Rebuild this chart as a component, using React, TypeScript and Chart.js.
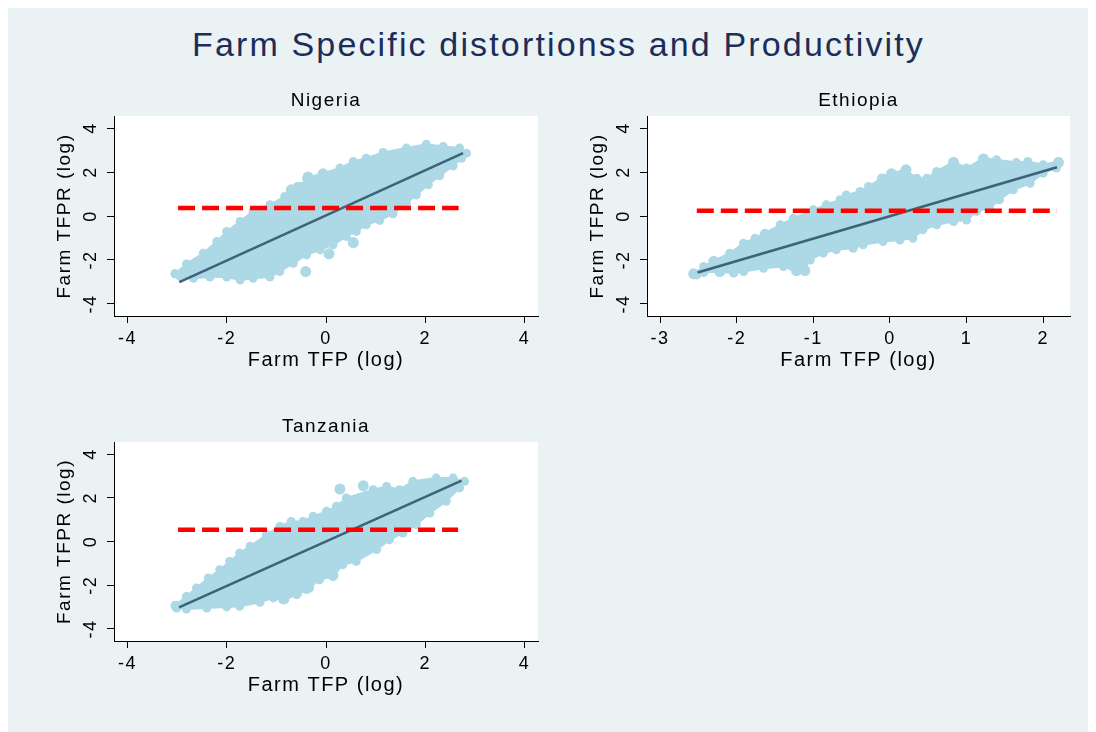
import React, { useEffect, useRef } from "react";
import { Chart, registerables } from "chart.js";
Chart.register(...registerables);

const FONT = '"Liberation Sans", Arial, sans-serif';
const BG = "#eaf2f3";
const CLOUD = "#add8e6";
const FIT = "#3e6278";
const REF = "#ff0000";

const mainTitle = "Farm Specific distortionss and Productivity";
const xAxisTitle = "Farm TFP (log)";
const yAxisTitle = "Farm TFPR (log)";
const yTicks = [-4, -2, 0, 2, 4];
const nigeriaXTicks = [-4, -2, 0, 2, 4];
const ethiopiaXTicks = [-3, -2, -1, 0, 1, 2];
const tanzaniaXTicks = [-4, -2, 0, 2, 4];

// ---- Nigeria ----
const nigeriaCloudX = [-3.04, -2.81, -2.47, -2.2, -2.0, -1.73, -1.47, -1.13, -0.83, -0.69, -0.53, -0.39, -0.06, 0.28, 0.55, 0.81, 1.15, 1.62, 2.02, 2.36, 2.69, 2.83, 2.73, 2.56, 2.29, 2.06, 1.82, 1.62, 1.35, 1.08, 0.81, 0.61, 0.41, 0.14, -0.12, -0.39, -0.66, -0.93, -1.13, -1.47, -1.73, -2.0, -2.34, -2.67, -2.94];
const nigeriaCloudY = [-2.63, -2.18, -1.69, -1.16, -0.7, -0.25, 0.21, 0.51, 0.89, 1.22, 1.34, 1.72, 1.95, 2.18, 2.48, 2.63, 2.89, 3.09, 3.27, 3.16, 3.09, 2.86, 2.63, 2.28, 1.83, 1.42, 0.96, 0.58, 0.1, -0.2, -0.4, -0.7, -0.93, -1.31, -1.54, -1.77, -2.15, -2.53, -2.78, -2.83, -2.91, -2.78, -2.78, -2.83, -2.75];
const nigeriaDotX = [-0.41, 0.55, 0.06, -0.36, -0.06, -0.7, -0.56];
const nigeriaDotY = [-2.53, -1.21, -1.72, 1.77, 1.92, 1.19, 1.31];
const nigeriaFitX = [-2.955, 2.76];
const nigeriaFitY = [-3.01, 2.86];
const nigeriaRefX = [-2.98, 2.67];
const nigeriaRefY = [0.36, 0.36];

// ---- Ethiopia ----
const ethiopiaCloudX = [-2.56, -2.43, -2.3, -2.09, -1.91, -1.76, -1.63, -1.43, -1.26, -1.0, -0.83, -0.65, -0.57, -0.39, -0.28, -0.11, 0.02, 0.2, 0.35, 0.48, 0.61, 0.83, 1.0, 1.22, 1.39, 1.65, 1.8, 2.0, 2.2, 2.17, 2.0, 1.83, 1.61, 1.43, 1.3, 1.13, 1.0, 0.83, 0.61, 0.43, 0.3, 0.13, -0.09, -0.35, -0.48, -0.7, -0.87, -1.04, -1.13, -1.22, -1.39, -1.65, -1.91, -2.04, -2.22, -2.43, -2.52];
const ethiopiaCloudY = [-2.63, -2.3, -2.03, -1.69, -1.24, -1.01, -0.78, -0.4, -0.1, 0.28, 0.51, 0.74, 0.96, 1.12, 1.34, 1.72, 1.95, 2.1, 1.72, 1.72, 2.03, 2.48, 2.18, 2.63, 2.56, 2.43, 2.48, 2.33, 2.48, 2.18, 1.95, 1.49, 1.19, 0.74, 0.36, 0.21, -0.18, -0.25, -0.4, -0.63, -1.01, -1.09, -1.16, -1.31, -1.47, -1.54, -1.69, -2.0, -2.45, -2.53, -2.3, -2.38, -2.53, -2.6, -2.53, -2.57, -2.68];
const ethiopiaDotX = [0.21, 0.02, -0.09, 1.22, 0.83, 2.2, -2.56, -2.3, -2.22, -1.22, -1.11, -1.63];
const ethiopiaDotY = [2.1, 1.92, 1.68, 2.59, 2.44, 2.43, -2.63, -2.07, -2.53, -2.48, -2.48, -0.86];
const ethiopiaFitX = [-2.51, 2.18];
const ethiopiaFitY = [-2.57, 2.22];
const ethiopiaRefX = [-2.52, 2.18];
const ethiopiaRefY = [0.24, 0.24];

// ---- Tanzania ----
const tanzaniaCloudX = [-3.04, -2.81, -2.61, -2.37, -2.14, -1.94, -1.74, -1.53, -1.2, -0.93, -0.7, -0.46, -0.26, 0.01, 0.21, 0.41, 0.95, 1.22, 1.48, 1.75, 2.22, 2.56, 2.79, 2.69, 2.42, 2.09, 1.82, 1.55, 1.28, 1.02, 0.61, 0.34, 0.14, -0.13, -0.39, -0.59, -0.83, -1.06, -1.33, -1.74, -2.0, -2.4, -2.81, -3.01];
const tanzaniaCloudY = [-2.93, -2.51, -2.13, -1.67, -1.29, -0.91, -0.53, -0.22, 0.31, 0.69, 0.92, 0.92, 1.15, 1.38, 1.61, 1.99, 2.37, 2.52, 2.37, 2.75, 2.9, 2.9, 2.75, 2.45, 1.84, 1.3, 0.77, 0.39, 0.08, -0.37, -0.91, -1.06, -1.59, -1.75, -2.2, -2.43, -2.66, -2.58, -2.78, -2.96, -2.99, -3.04, -3.09, -3.04];
const tanzaniaDotX = [0.28, 0.75, 0.14, -0.35, -0.86, -0.59, -3.01];
const tanzaniaDotY = [2.4, 2.55, -1.55, -2.1, -2.62, -2.35, -2.96];
const tanzaniaFitX = [-2.96, 2.73];
const tanzaniaFitY = [-3.01, 2.78];
const tanzaniaRefX = [-2.98, 2.66];
const tanzaniaRefY = [0.54, 0.54];

type PanelDef = {
  title: string;
  left: number;
  top: number;
  width: number;
  height: number;
  plotW: number;
  plotH: number;
  xMin: number;
  xMax: number;
  xTicks: number[];
  cloudX: number[];
  cloudY: number[];
  dotX: number[];
  dotY: number[];
  fitX: number[];
  fitY: number[];
  refX: number[];
  refY: number[];
};

const panels: PanelDef[] = [
  { title: "Nigeria", left: 32, top: 78, width: 510, height: 290, plotW: 424, plotH: 200, xMin: -4.27, xMax: 4.27, xTicks: nigeriaXTicks, cloudX: nigeriaCloudX, cloudY: nigeriaCloudY, dotX: nigeriaDotX, dotY: nigeriaDotY, fitX: nigeriaFitX, fitY: nigeriaFitY, refX: nigeriaRefX, refY: nigeriaRefY },
  { title: "Ethiopia", left: 565, top: 78, width: 509, height: 290, plotW: 423, plotH: 200, xMin: -3.17, xMax: 2.35, xTicks: ethiopiaXTicks, cloudX: ethiopiaCloudX, cloudY: ethiopiaCloudY, dotX: ethiopiaDotX, dotY: ethiopiaDotY, fitX: ethiopiaFitX, fitY: ethiopiaFitY, refX: ethiopiaRefX, refY: ethiopiaRefY },
  { title: "Tanzania", left: 32, top: 404, width: 510, height: 289, plotW: 424, plotH: 199, xMin: -4.27, xMax: 4.27, xTicks: tanzaniaXTicks, cloudX: tanzaniaCloudX, cloudY: tanzaniaCloudY, dotX: tanzaniaDotX, dotY: tanzaniaDotY, fitX: tanzaniaFitX, fitY: tanzaniaFitY, refX: tanzaniaRefX, refY: tanzaniaRefY },
];

const pts = (xs: number[], ys: number[]) => xs.map((x, i) => ({ x, y: ys[i] }));

const stylePlugin = {
  id: "panelStyle",
  beforeUpdate(chart: any) {
    (chart.ctx as any).letterSpacing = "1.5px";
  },
  beforeDraw(chart: any) {
    const ctx = chart.ctx;
    (ctx as any).letterSpacing = "1.5px";
    const a = chart.chartArea;
    ctx.save();
    ctx.fillStyle = "#ffffff";
    ctx.fillRect(a.left, a.top, a.right - a.left, a.bottom - a.top);
    ctx.restore();
  },
};

function Panel({ def }: { def: PanelDef }) {
  const ref = useRef<HTMLCanvasElement>(null);
  useEffect(() => {
    const cloud = pts(def.cloudX, def.cloudY);
    cloud.push({ ...cloud[0] });
    const chart = new Chart(ref.current as HTMLCanvasElement, {
      type: "scatter",
      data: {
        datasets: [
          {
            type: "line",
            data: pts(def.refX, def.refY),
            borderColor: REF,
            borderWidth: 4.5,
            borderDash: [17, 7],
            borderCapStyle: "butt",
            pointRadius: 0,
            fill: false,
          } as any,
          {
            type: "line",
            data: pts(def.fitX, def.fitY),
            borderColor: FIT,
            borderWidth: 2.5,
            pointRadius: 0,
            fill: false,
          } as any,
          {
            type: "scatter",
            data: pts(def.dotX, def.dotY),
            backgroundColor: CLOUD,
            borderColor: CLOUD,
            borderWidth: 0,
            pointRadius: 5.5,
          } as any,
          {
            type: "line",
            data: cloud,
            borderColor: CLOUD,
            backgroundColor: CLOUD,
            borderWidth: 2,
            borderJoinStyle: "round",
            pointRadius: 4.5,
            pointBorderWidth: 0,
            pointBackgroundColor: CLOUD,
            tension: 0,
            fill: "shape",
          } as any,
        ],
      },
      options: {
        animation: false,
        responsive: false,
        devicePixelRatio: 1,
        events: [],
        layout: { padding: { left: 0, right: def.width - 74 - def.plotW, top: 0, bottom: 0 } },
        plugins: {
          legend: { display: false },
          tooltip: { enabled: false },
          title: {
            display: true,
            text: def.title,
            color: "#000000",
            fullSize: false,
            font: { family: FONT, size: 19, weight: "normal", lineHeight: 1.2 },
            padding: { top: 3.6, bottom: 3.6 },
          },
        },
        scales: {
          x: {
            type: "linear",
            min: def.xMin,
            max: def.xMax,
            afterBuildTicks: (s: any) => {
              s.ticks = def.xTicks.map((v) => ({ value: v }));
            },
            afterFit: (s: any) => {
              s.height = def.height - 30 - def.plotH;
            },
            border: { display: true, color: "#000000", width: 1 },
            grid: { display: true, drawOnChartArea: false, drawTicks: true, tickLength: 7, color: "#000000", tickColor: "#000000" },
            ticks: {
              color: "#000000",
              font: { family: FONT, size: 18, lineHeight: 1.2 },
              padding: 5,
              maxRotation: 0,
              autoSkip: false,
              callback: (v: any) => String(v),
            },
            title: {
              display: true,
              text: xAxisTitle,
              color: "#000000",
              font: { family: FONT, size: 20, lineHeight: 1.2 },
              padding: { top: 0, bottom: 4 },
            },
          },
          y: {
            type: "linear",
            min: -4.55,
            max: 4.55,
            afterBuildTicks: (s: any) => {
              s.ticks = yTicks.map((v) => ({ value: v }));
            },
            afterFit: (s: any) => {
              s.width = 74;
            },
            border: { display: true, color: "#000000", width: 1 },
            grid: { display: true, drawOnChartArea: false, drawTicks: true, tickLength: 7, color: "#000000", tickColor: "#000000" },
            ticks: {
              color: "#000000",
              font: { family: FONT, size: 18, lineHeight: 1.2 },
              padding: 6,
              minRotation: 90,
              maxRotation: 90,
              crossAlign: "center",
              autoSkip: false,
              callback: (v: any) => String(v),
            },
            title: {
              display: true,
              text: yAxisTitle,
              color: "#000000",
              font: { family: FONT, size: 19, lineHeight: 1.2 },
              padding: { top: 13, bottom: 0 },
            },
          },
        },
      } as any,
      plugins: [stylePlugin],
    });
    return () => chart.destroy();
  }, [def]);
  return (
    <canvas
      ref={ref}
      width={def.width}
      height={def.height}
      style={{ position: "absolute", left: def.left, top: def.top, width: def.width, height: def.height }}
    />
  );
}

export default function App() {
  useEffect(() => {
    document.body.style.overflow = "hidden";
  }, []);
  return (
    <div style={{ position: "relative", width: 1088, height: 724, background: BG, overflow: "hidden" }}>
      <div
        style={{
          position: "absolute",
          left: 0,
          top: 19,
          width: 1088,
          boxSizing: "border-box",
          paddingLeft: 13,
          textAlign: "center",
          fontFamily: FONT,
          fontSize: 34,
          lineHeight: "34px",
          letterSpacing: "2.15px",
          color: "#1c2d5a",
          whiteSpace: "nowrap",
        }}
      >
        {mainTitle}
      </div>
      {panels.map((p) => (
        <Panel key={p.title} def={p} />
      ))}
    </div>
  );
}
